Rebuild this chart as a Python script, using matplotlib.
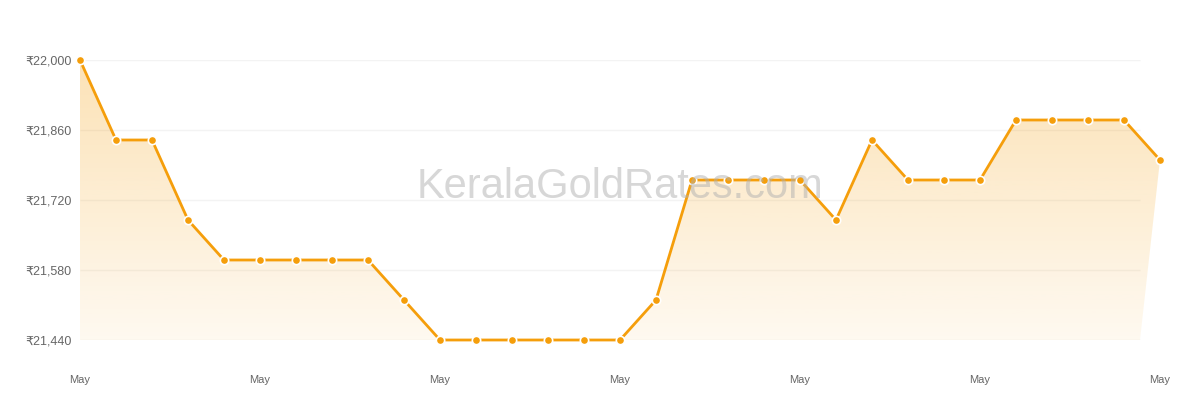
import numpy as np
import matplotlib.pyplot as plt
from matplotlib.patches import Polygon

plt.rcParams['font.family'] = ['Liberation Sans', 'DejaVu Sans']

prices = [22000, 21840, 21840, 21680, 21600, 21600, 21600, 21600, 21600, 21520,
          21440, 21440, 21440, 21440, 21440, 21440, 21520, 21760, 21760, 21760,
          21760, 21680, 21840, 21760, 21760, 21760, 21880, 21880, 21880, 21880,
          21800]
y_ticks = [21440, 21580, 21720, 21860, 22000]
x_tick_pos = [0, 5, 10, 15, 20, 25, 30]
x_tick_labels = ['May'] * 7

amber = '#f59e0b'
x = np.arange(len(prices))
grid_end = len(prices) - 1 - 20 / 36.0  # grid / area stop a bit short of last point

fig = plt.figure(figsize=(12, 4), dpi=100)
ax = fig.add_axes([80 / 1200, 60 / 400, 1080 / 1200, 280 / 400])
ax.set_xlim(0, len(prices) - 1)
ax.set_ylim(y_ticks[0], y_ticks[-1])
for s in ax.spines.values():
    s.set_visible(False)

# grid
ax.hlines(y_ticks, 0, grid_end, color='#f3f3f3', lw=1, zorder=0)

# gradient area
verts = list(zip(x, prices)) + [(grid_end, y_ticks[0]), (0, y_ticks[0])]
poly = Polygon(verts, closed=True, facecolor='none', edgecolor='none')
ax.add_patch(poly)
grad = np.linspace(1, 0, 256).reshape(-1, 1)
rgba = np.zeros((256, 1, 4))
rgba[..., 0] = 0xf5 / 255
rgba[..., 1] = 0x9e / 255
rgba[..., 2] = 0x0b / 255
rgba[..., 3] = 0.06 + 0.24 * grad
im = ax.imshow(rgba, extent=[0, len(prices) - 1, y_ticks[0], y_ticks[-1]],
               aspect='auto', origin='upper', zorder=1)
im.set_clip_path(poly)

ax.plot(x, prices, color=amber, lw=2, zorder=3, clip_on=False,
        marker='o', markersize=6, markerfacecolor=amber,
        markeredgecolor='white', markeredgewidth=1.2)

ax.set_yticks(y_ticks)
ax.set_yticklabels(['₹{:,}'.format(v) for v in y_ticks])
ax.set_xticks(x_tick_pos)
ax.set_xticklabels(x_tick_labels)
ax.tick_params(length=0, labelcolor='#666666')
ax.tick_params(axis='y', pad=6, labelsize=9)
ax.tick_params(axis='x', pad=25, labelsize=8)

fig.text(620 / 1200, 1 - 187 / 400, 'KeralaGoldRates.com', ha='center', va='center',
         fontsize=30, color='#b0b0b0', alpha=0.5, zorder=5)

fig.savefig('out.png', dpi=100)
